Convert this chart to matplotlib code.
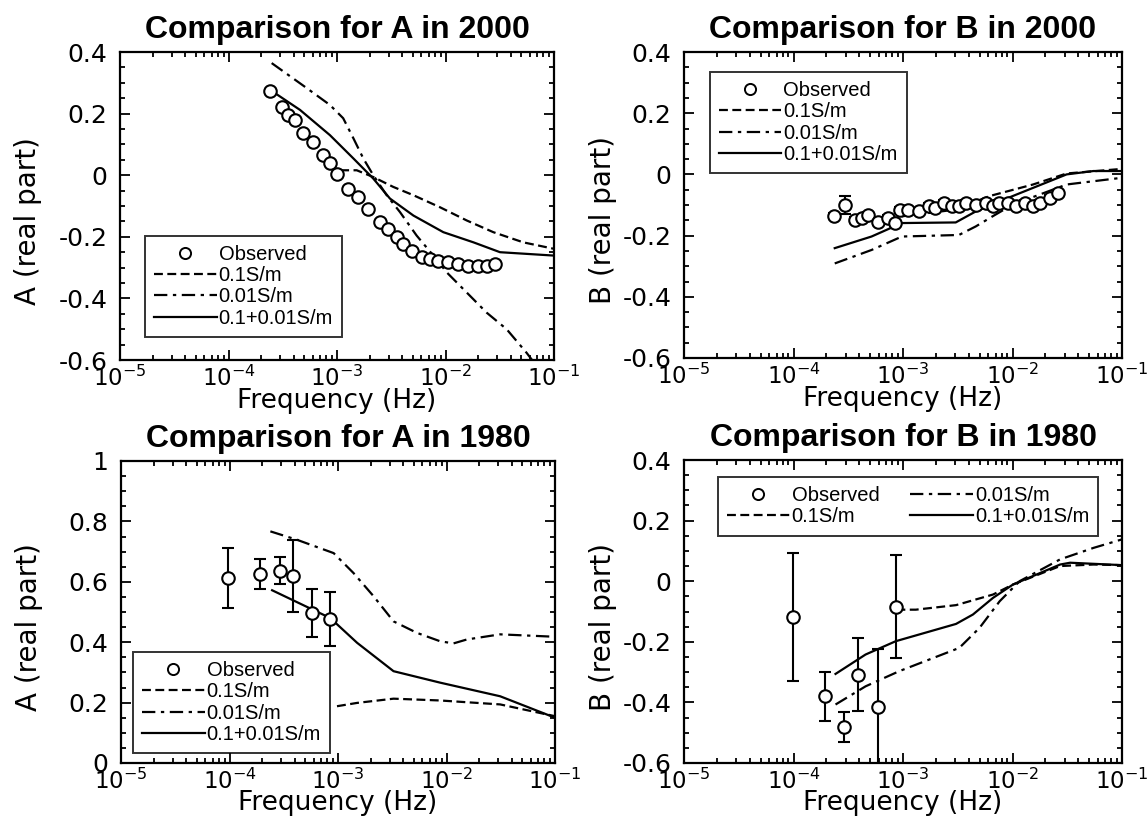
import matplotlib
matplotlib.use('Agg')
import matplotlib.pyplot as plt
import numpy as np
from matplotlib.lines import Line2D
from matplotlib.ticker import FixedLocator, LogLocator, NullFormatter, MultipleLocator

plt.rcParams['font.family'] = ['DejaVu Sans']
plt.rcParams['mathtext.fontset'] = 'dejavusans'
plt.rcParams['axes.unicode_minus'] = False

# ---- A in 2000 ----
a00_obs_f = [2.42e-4, 3.09e-4, 3.56e-4, 4.10e-4, 4.90e-4, 6.05e-4, 7.48e-4, 8.63e-4, 9.93e-4,
             1.27e-3, 1.57e-3, 1.95e-3, 2.49e-3, 2.97e-3, 3.55e-3, 4.08e-3, 4.88e-3, 6.03e-3,
             7.19e-3, 8.59e-3, 1.06e-2, 1.31e-2, 1.62e-2, 2.01e-2, 2.39e-2, 2.86e-2]
a00_obs = [0.272, 0.223, 0.196, 0.179, 0.136, 0.109, 0.065, 0.038, 0.005,
           -0.044, -0.071, -0.109, -0.153, -0.174, -0.201, -0.223, -0.245, -0.267,
           -0.272, -0.278, -0.283, -0.288, -0.294, -0.294, -0.294, -0.288]
a00_f01 = [1.07e-3, 1.52e-3, 2.16e-3, 3.30e-3, 5.06e-3, 8.89e-3, 1.57e-2, 2.76e-2, 5.21e-2, 0.1]
a00_m01 = [0.016, 0.016, -0.006, -0.038, -0.065, -0.104, -0.147, -0.185, -0.218, -0.239]
a00_f001 = [2.50e-4, 5.25e-4, 8.61e-4, 1.14e-3, 1.42e-3, 1.75e-3, 2.16e-3, 2.87e-3, 3.81e-3,
            5.42e-3, 7.73e-3, 1.03e-2, 1.57e-2, 2.39e-2, 3.66e-2, 5.60e-2, 6.6e-2]
a00_m001 = [0.364, 0.283, 0.228, 0.185, 0.119, 0.054, 0.000, -0.065, -0.120,
            -0.196, -0.261, -0.316, -0.381, -0.446, -0.500, -0.577, -0.61]
a00_fcmb = [2.42e-4, 4.56e-4, 8.61e-4, 1.42e-3, 2.16e-3, 3.08e-3, 5.06e-3, 9.55e-3, 1.81e-2, 3.18e-2, 0.1]
a00_mcmb = [0.277, 0.212, 0.130, 0.054, -0.011, -0.076, -0.131, -0.185, -0.218, -0.250, -0.261]

# ---- B in 2000 ----
b00_obs_f = [2.34e-4, 2.94e-4, 3.63e-4, 4.18e-4, 4.82e-4, 5.96e-4, 7.36e-4, 8.47e-4, 9.42e-4,
             1.12e-3, 1.39e-3, 1.72e-3, 1.98e-3, 2.36e-3, 2.82e-3, 3.24e-3, 3.74e-3, 4.62e-3,
             5.71e-3, 6.58e-3, 7.59e-3, 9.04e-3, 1.08e-2, 1.29e-2, 1.54e-2, 1.77e-2, 2.19e-2, 2.61e-2]
b00_obs = [-0.137, -0.099, -0.148, -0.143, -0.132, -0.154, -0.143, -0.159, -0.115,
           -0.115, -0.121, -0.104, -0.110, -0.093, -0.104, -0.104, -0.093, -0.099,
           -0.093, -0.104, -0.093, -0.093, -0.104, -0.093, -0.104, -0.093, -0.077, -0.061]
b00_err = [0.01, 0.03, 0.01, 0.01, 0.01, 0.01, 0.01, 0.01, 0.01, 0.01, 0.01, 0.01, 0.01, 0.01,
           0.01, 0.01, 0.01, 0.01, 0.01, 0.01, 0.01, 0.01, 0.01, 0.01, 0.01, 0.01, 0.01, 0.01]
b00_f01 = [9.77e-4, 3.03e-3, 6.14e-3, 1.54e-2, 3.12e-2, 0.1]
b00_m01 = [-0.137, -0.115, -0.071, -0.033, 0.003, 0.018]
b00_f001 = [2.38e-4, 5.16e-4, 9.77e-4, 3.24e-3, 4.62e-3, 6.58e-3, 1.00e-2, 3.12e-2, 0.1]
b00_m001 = [-0.291, -0.247, -0.203, -0.198, -0.170, -0.137, -0.099, -0.033, -0.011]
b00_fcmb = [2.38e-4, 5.16e-4, 9.77e-4, 3.03e-3, 4.62e-3, 1.00e-2, 3.12e-2, 5.48e-2, 0.1]
b00_mcmb = [-0.241, -0.203, -0.159, -0.157, -0.121, -0.071, 0.0, 0.011, 0.011]

# ---- A in 1980 ----
a80_obs_f = [9.66e-5, 1.90e-4, 2.90e-4, 3.85e-4, 5.77e-4, 8.49e-4]
a80_obs = [0.613, 0.627, 0.637, 0.620, 0.497, 0.477]
a80_err = [0.10, 0.05, 0.045, 0.12, 0.08, 0.09]
a80_f01 = [9.79e-4, 1.50e-3, 3.25e-3, 8.75e-3, 3.12e-2, 0.1]
a80_m01 = [0.188, 0.199, 0.213, 0.207, 0.194, 0.155]
a80_f001 = [2.38e-4, 4.20e-4, 9.12e-4, 1.39e-3, 2.13e-3, 3.25e-3, 5.33e-3, 8.75e-3, 1.16e-2,
            1.54e-2, 3.12e-2, 0.1]
a80_m001 = [0.767, 0.739, 0.695, 0.629, 0.552, 0.469, 0.431, 0.403, 0.396, 0.409, 0.426, 0.418]
a80_fcmb = [2.47e-4, 8.49e-4, 1.50e-3, 3.25e-3, 8.75e-3, 3.12e-2, 0.1]
a80_mcmb = [0.572, 0.480, 0.398, 0.304, 0.266, 0.221, 0.150]

# ---- B in 1980 ----
b80_obs_f = [9.80e-5, 1.93e-4, 2.92e-4, 3.90e-4, 5.96e-4, 8.71e-4]
b80_obs = [-0.118, -0.380, -0.482, -0.308, -0.415, -0.085]
b80_err = [0.21, 0.08, 0.05, 0.12, 0.19, 0.17]
b80_f01 = [8.71e-4, 1.31e-3, 3.05e-3, 6.64e-3, 1.01e-2, 2.72e-2, 5.50e-2, 0.1]
b80_m01 = [-0.094, -0.094, -0.079, -0.044, -0.011, 0.050, 0.055, 0.053]
b80_f001 = [2.42e-4, 4.55e-4, 9.23e-4, 3.27e-3, 5.00e-3, 7.64e-3, 1.16e-2, 2.72e-2, 5.50e-2, 0.1]
b80_m001 = [-0.407, -0.347, -0.297, -0.220, -0.154, -0.066, 0.0, 0.072, 0.110, 0.138]
b80_fcmb = [2.42e-4, 4.55e-4, 8.59e-4, 3.05e-3, 4.35e-3, 6.64e-3, 1.01e-2, 2.72e-2, 3.36e-2, 0.1]
b80_mcmb = [-0.306, -0.242, -0.198, -0.141, -0.110, -0.055, -0.011, 0.055, 0.061, 0.053]

xtick_vals = [1e-5, 1e-4, 1e-3, 1e-2, 1e-1]
xtick_labels = ['$10^{-5}$', '$10^{-4}$', '$10^{-3}$', '$10^{-2}$', '$10^{-1}$']
ytick_top = [-0.6, -0.4, -0.2, 0, 0.2, 0.4]
ytick_top_lab = ['-0.6', '-0.4', '-0.2', '0', '0.2', '0.4']
ytick_a80 = [0, 0.2, 0.4, 0.6, 0.8, 1]
ytick_a80_lab = ['0', '0.2', '0.4', '0.6', '0.8', '1']
legend_labels = ['Observed', '0.1S/m', '0.01S/m', '0.1+0.01S/m']

DASH = (0, (4, 2))
DASHDOT = (0, (6, 2.5, 1.5, 2.5))
LW = 1.6

fig = plt.figure(figsize=(11.47, 8.24), dpi=100)
W, H = 1147, 824


def make_ax(l, t, r, b):
    return fig.add_axes([l / W, 1 - b / H, (r - l) / W, (b - t) / H])


def style(ax, yticks, ylabs, ylim, title, ylabel, ylab_x):
    ax.set_xscale('log')
    ax.set_xlim(1e-5, 1e-1)
    ax.set_ylim(*ylim)
    ax.xaxis.set_major_locator(FixedLocator(xtick_vals))
    ax.set_xticklabels(xtick_labels)
    ax.xaxis.set_minor_locator(LogLocator(base=10, subs=np.arange(2, 10)))
    ax.xaxis.set_minor_formatter(NullFormatter())
    ax.set_yticks(yticks)
    ax.set_yticklabels(ylabs)
    ax.yaxis.set_minor_locator(MultipleLocator(0.05))
    ax.tick_params(which='both', direction='in', top=True, right=True, width=1.3)
    ax.tick_params(which='major', length=7)
    ax.tick_params(axis='y', which='major', pad=9, labelsize=18)
    ax.tick_params(axis='x', which='major', pad=4, labelsize=16.5)
    ax.tick_params(which='minor', length=3.5)
    for s in ax.spines.values():
        s.set_linewidth(1.6)
    ax.set_title(title, fontsize=23, fontweight='bold', pad=10, family='Liberation Sans')
    ax.set_xlabel('Frequency (Hz)', fontsize=19)
    ax.xaxis.set_label_coords(0.5, -0.09)
    ax.set_ylabel(ylabel, fontsize=20)
    ax.yaxis.set_label_coords(ylab_x, 0.45)


def draw(ax, of, ov, oe, f1, m1, f2, m2, f3, m3):
    ax.errorbar(of, ov, yerr=oe, fmt='o', ms=9, mfc='white', mec='black', mew=1.5,
                ecolor='black', elinewidth=1.5, capsize=4, capthick=1.5, zorder=3)
    ax.plot(f1, m1, color='black', lw=LW, linestyle=DASH)
    ax.plot(f2, m2, color='black', lw=LW, linestyle=DASHDOT)
    ax.plot(f3, m3, color='black', lw=LW)
    h_obs = Line2D([], [], ls='none', marker='o', ms=8, mfc='white', mec='black', mew=1.4)
    h1 = Line2D([], [], color='black', lw=LW, linestyle=DASH)
    h2 = Line2D([], [], color='black', lw=LW, linestyle=DASHDOT)
    h3 = Line2D([], [], color='black', lw=LW)
    return [h_obs, h1, h2, h3]


leg_kw = dict(prop={'family': 'Liberation Sans', 'size': 14.5}, frameon=True, fancybox=False,
              edgecolor='black', handlelength=3.1, handletextpad=0.1, labelspacing=0.12,
              borderpad=0.45, borderaxespad=0)

# top-left
ax1 = make_ax(120, 52, 554, 360)
hs = draw(ax1, a00_obs_f, a00_obs, None, a00_f01, a00_m01, a00_f001, a00_m001, a00_fcmb, a00_mcmb)
style(ax1, ytick_top, ytick_top_lab, (-0.6, 0.4), 'Comparison for A in 2000', 'A (real part)', -0.18)
lg = ax1.legend(hs, legend_labels, loc='lower left', bbox_to_anchor=(0.058, 0.075), **leg_kw)
lg.get_frame().set_linewidth(1.4)

# top-right
ax2 = make_ax(684, 52, 1122, 358)
hs = draw(ax2, b00_obs_f, b00_obs, b00_err, b00_f01, b00_m01, b00_f001, b00_m001, b00_fcmb, b00_mcmb)
style(ax2, ytick_top, ytick_top_lab, (-0.6, 0.4), 'Comparison for B in 2000', 'B (real part)', -0.153)
lg = ax2.legend(hs, legend_labels, loc='upper left', bbox_to_anchor=(0.059, 0.935), **leg_kw)
lg.get_frame().set_linewidth(1.4)

# bottom-left
ax3 = make_ax(121, 461, 555, 763)
hs = draw(ax3, a80_obs_f, a80_obs, a80_err, a80_f01, a80_m01, a80_f001, a80_m001, a80_fcmb, a80_mcmb)
style(ax3, ytick_a80, ytick_a80_lab, (0, 1), 'Comparison for A in 1980', 'A (real part)', -0.18)
lg = ax3.legend(hs, legend_labels, loc='lower left', bbox_to_anchor=(0.028, 0.033), **leg_kw)
lg.get_frame().set_linewidth(1.4)

# bottom-right
ax4 = make_ax(684, 460, 1122, 763)
hs = draw(ax4, b80_obs_f, b80_obs, b80_err, b80_f01, b80_m01, b80_f001, b80_m001, b80_fcmb, b80_mcmb)
style(ax4, ytick_top, ytick_top_lab, (-0.6, 0.4), 'Comparison for B in 1980', 'B (real part)', -0.153)
lg = ax4.legend(hs, legend_labels, loc='upper left', bbox_to_anchor=(0.078, 0.5, 0.868, 0.444),
                ncol=2, mode='expand', **leg_kw)
lg.get_frame().set_linewidth(1.4)

fig.savefig('out.png', dpi=100)
